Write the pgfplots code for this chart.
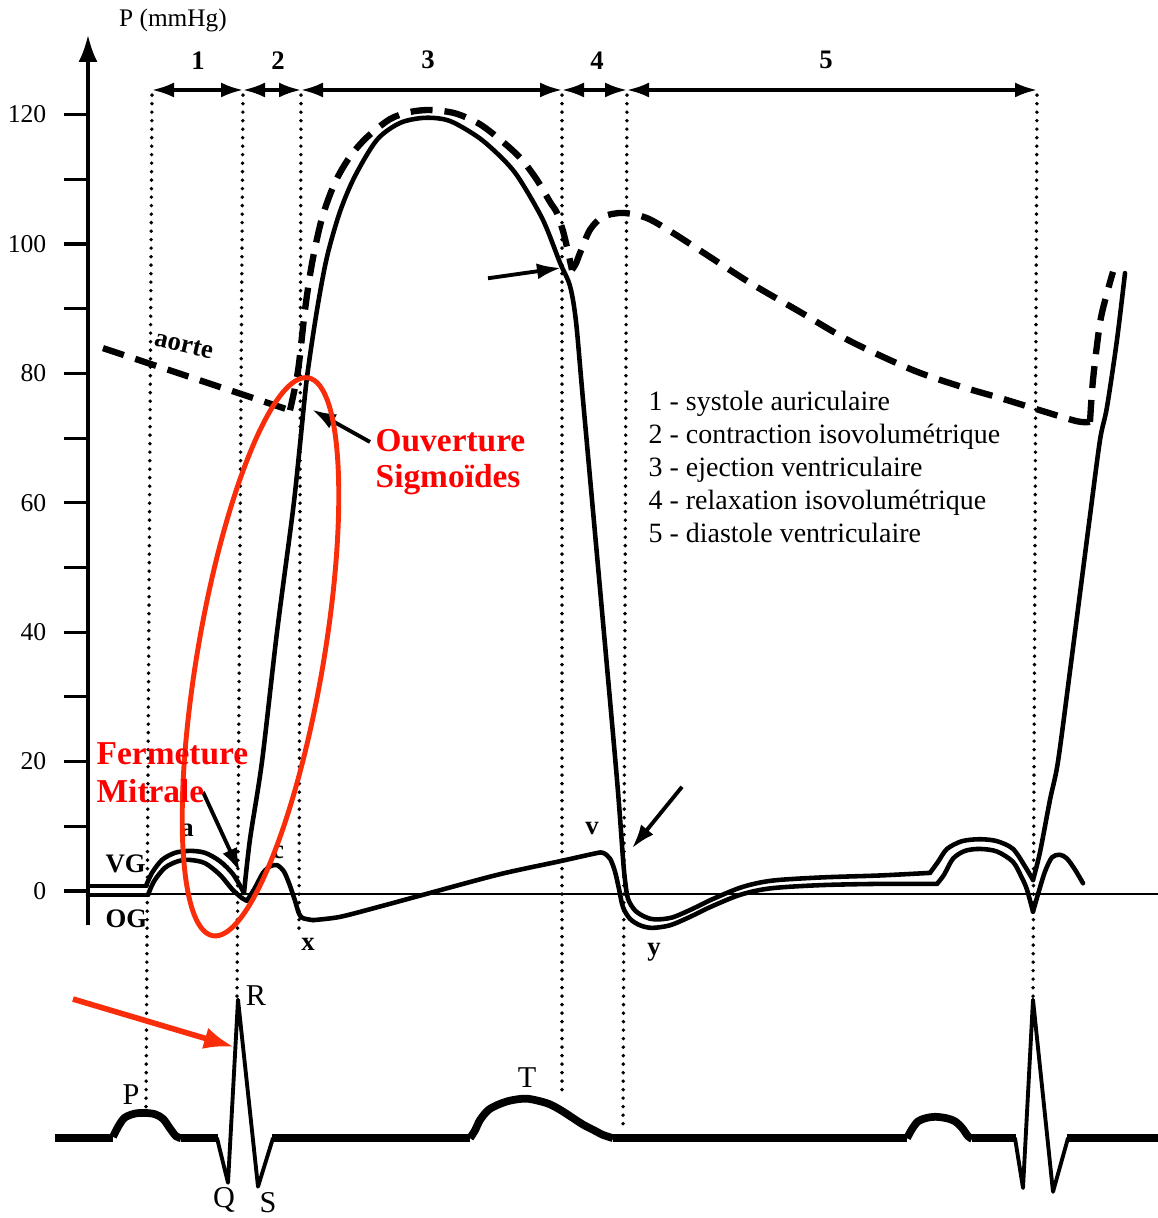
\documentclass[border=0pt]{standalone}
\usepackage{pgfplots}
\pgfplotsset{compat=1.18}
\usepackage{fontspec}
\setmainfont{Liberation Serif}
\usetikzlibrary{arrows.meta}
\definecolor{redT}{RGB}{255,0,0}
\definecolor{redE}{RGB}{250,45,10}
\begin{document}
\begin{tikzpicture}[
 vg/.style={line width=1.3pt, line join=round, line cap=round},
 ao/.style={line width=1.8pt, dash pattern=on 2.2mm off 1.2mm},
 dotl/.style={line width=1.1pt, line cap=round, dash pattern=on 0pt off 0.85mm},
 ecg/.style={line width=2.2pt, line join=round},
 qrs/.style={line width=1.1pt, line join=round, line cap=round},
 ph/.style={line width=0.9pt, {Latex[length=2.2mm,width=1.5mm]}-{Latex[length=2.2mm,width=1.5mm]}},
 tk/.style={line width=0.9pt},
 tl/.style={font=\fontsize{7.3}{8}\selectfont, anchor=east, inner sep=0pt},
 lg/.style={font=\fontsize{7.95}{9}\selectfont, anchor=base west, inner sep=0pt},
 bl/.style={font=\fontsize{7.6}{9}\selectfont\bfseries},
 rl/.style={font=\fontsize{9.5}{10}\selectfont\bfseries, text=redT, anchor=base west, inner sep=0pt},
 el/.style={font=\fontsize{8.6}{10}\selectfont, inner sep=0pt},
]
\begin{axis}[scale only axis, width=11.58cm, height=12.18cm,
  xmin=0, xmax=1158, ymin=-50.54, ymax=137.71,
  axis lines=none, clip=false, no markers]

\coordinate (BL) at (axis cs:0,-50.54);
\coordinate (TR) at (axis cs:1158,137.71);

% ---- y axis and ticks
\draw[line width=0.9pt, -{Latex[length=2.7mm,width=1.9mm]}] (axis cs:88,-5.3) -- (axis cs:88,132.3);
\draw[tk] (axis cs:64,0) -- (axis cs:86,0);
\draw[tk] (axis cs:64,10) -- (axis cs:86,10);
\draw[tk] (axis cs:64,20) -- (axis cs:86,20);
\draw[tk] (axis cs:64,30) -- (axis cs:86,30);
\draw[tk] (axis cs:64,40) -- (axis cs:86,40);
\draw[tk] (axis cs:64,50) -- (axis cs:86,50);
\draw[tk] (axis cs:64,60) -- (axis cs:86,60);
\draw[tk] (axis cs:64,70) -- (axis cs:86,70);
\draw[tk] (axis cs:64,80) -- (axis cs:86,80);
\draw[tk] (axis cs:64,90) -- (axis cs:86,90);
\draw[tk] (axis cs:64,100) -- (axis cs:86,100);
\draw[tk] (axis cs:64,110) -- (axis cs:86,110);
\draw[tk] (axis cs:64,120) -- (axis cs:86,120);
\node[tl] at (axis cs:47,0) {0};
\node[tl] at (axis cs:47,20) {20};
\node[tl] at (axis cs:47,40) {40};
\node[tl] at (axis cs:47,60) {60};
\node[tl] at (axis cs:47,80) {80};
\node[tl] at (axis cs:47,100) {100};
\node[tl] at (axis cs:47,120) {120};
\node[font=\fontsize{7.2}{8}\selectfont, inner sep=0pt] at (axis cs:173,134.6) {P (mmHg)};
% x axis line
\draw[line width=0.6pt] (axis cs:88,-0.4) -- (axis cs:1158,-0.4);

% ---- dotted verticals
\addplot[dotl] coordinates {(152,123) (146,-33.8)};
\addplot[dotl] coordinates {(243,123) (237,-16.8)};
\addplot[dotl] coordinates {(301,123) (299,-6.5)};
\addplot[dotl] coordinates {(562,123) (562,-31.5)};
\addplot[dotl] coordinates {(627,123) (623,-37.0)};
\addplot[dotl] coordinates {(1037,123) (1033,-16.8)};

% ---- phase arrows
\draw[ph] (axis cs:152,123.8) -- (axis cs:243,123.8);
\draw[ph] (axis cs:243,123.8) -- (axis cs:301,123.8);
\draw[ph] (axis cs:301,123.8) -- (axis cs:562,123.8);
\draw[ph] (axis cs:562,123.8) -- (axis cs:627,123.8);
\draw[ph] (axis cs:627,123.8) -- (axis cs:1037,123.8);
\node[bl] at (axis cs:198,128.4) {1};
\node[bl] at (axis cs:278,128.4) {2};
\node[bl] at (axis cs:428,128.4) {3};
\node[bl] at (axis cs:597,128.4) {4};
\node[bl] at (axis cs:826,128.4) {5};

% ---- aorta (dashed)
\addplot[ao] coordinates {(103,83.9) (290,74.3)};
\addplot[ao, smooth] coordinates {(290,74.3) (298,80.4) (305,89.8) (312,97) (322,104) (335,109.5) (350,113.5) (367,116.5) (390,119.3) (410,120.4) (430,120.7) (455,120.2) (480,118.5) (505,115.5) (522,113) (537,109.9) (550,106.5) (557,104.8) (563,102) (567,99.5) (572,96.0)};
\addplot[ao, smooth] coordinates {(572,96.0) (576,97) (580,98.6) (590,102.2) (603,104.2) (623,104.8) (647,104.0) (673,101.7) (700,99) (750,94) (800,89.5) (850,85) (913,80.5) (960,78) (1000,76.2) (1040,74.3) (1077,72.6) (1090,72.5)};
\addplot[ao, smooth] coordinates {(1090,72.5) (1093,79.0) (1100,87.8) (1107,92.4) (1113,95.7)};

% ---- left ventricle (VG)
\addplot[vg] coordinates {(90,0.8) (146,0.8)};
\addplot[vg, smooth] coordinates {(146,0.8) (152,2.8) (162,4.8) (175,5.9) (190,6.2) (205,5.9) (220,4.6) (233,2.6) (244,-0.3)};
\addplot[vg, smooth] coordinates {(244,-0.3) (250,8) (262,20) (277,40) (293,58.9) (300,69) (307,79.4) (317,89.8) (327,98) (340,105) (355,110.5) (377,116.1) (400,118.7) (425,119.5) (450,119.0) (480,116.3) (505,112.8) (520,109.9) (543,103.7) (560,97.1) (570,93.5) (576,88) (583,75.9) (601,45) (617,17.2) (623,5) (625,1.7) (628,-1.2) (635,-3.0) (645,-4.0) (655,-4.4) (672,-4.1) (692,-2.8) (712,-1.3) (742,0.6) (772,1.6) (822,2.1) (880,2.4) (930,2.8)};
\addplot[vg, smooth] coordinates {(930,2.8) (938,4.5) (947,6.5) (962,7.7) (980,8.0) (997,7.7) (1013,6.5) (1025,3.8) (1033,1.7)};
\addplot[vg, smooth] coordinates {(1033,1.7) (1040,6) (1050,14.1) (1058,20) (1070,34) (1080,46) (1090,58) (1100,69.7) (1107,74.8) (1117,85.2) (1125,95.5)};

% ---- left atrium (OG)
\addplot[vg] coordinates {(88,-0.6) (148,-0.6)};
\addplot[vg, smooth] coordinates {(148,-0.6) (154,1.5) (165,3.6) (178,4.6) (190,4.8) (205,4.3) (220,2.5) (232,0.3) (242,-1.1) (247,-1.5)};
\addplot[vg, smooth] coordinates {(247,-1.5) (255,0.5) (263,2.8) (270,3.8) (277,4.0) (284,3.0) (290,0.8) (295,-1.5) (299,-3.5) (303,-4.2) (313,-4.5)};
\addplot[vg, smooth] coordinates {(313,-4.5) (340,-4.0) (380,-2.4) (430,-0.3) (500,2.6) (560,4.6) (595,5.8) (603,5.9) (610,5.0) (615,3.0) (619,0.3) (623,-2.5) (630,-4.3) (640,-5.3) (652,-5.7) (670,-5.3) (690,-4.0) (710,-2.5) (740,-0.6) (770,0.4) (820,0.9) (880,1.1) (937,1.1)};
\addplot[vg, smooth] coordinates {(937,1.1) (944,2.5) (953,5.0) (965,6.2) (980,6.5) (997,6.1) (1013,4.5) (1022,2.0) (1027,0.2) (1033,-3.2)};
\addplot[vg, smooth] coordinates {(1033,-3.2) (1038,-0.5) (1045,3.0) (1052,5.2) (1060,5.6) (1067,5.0) (1075,3.3) (1083,1.2)};

% ---- ECG
\addplot[ecg] coordinates {(55,-38.2) (113,-38.2)};
\addplot[ecg, smooth] coordinates {(113,-38.0) (119,-36.2) (125,-35.0) (135,-34.4) (145,-34.3) (155,-34.5) (163,-35.2) (170,-36.7) (176,-37.9) (181,-38.2)};
\addplot[ecg] coordinates {(181,-38.2) (218,-38.2)};
\addplot[qrs] coordinates {(217,-38.2) (228,-45.1) (238,-16.8) (258,-45.7) (273,-38.2)};
\addplot[ecg] coordinates {(272,-38.2) (470,-38.2)};
\addplot[ecg, smooth] coordinates {(470,-38.2) (475,-37) (480,-35.4) (488,-33.9) (497,-33.1) (510,-32.4) (527,-32.1) (547,-32.8) (560,-33.8) (573,-35.1) (583,-36.1) (593,-36.9) (603,-37.7) (613,-38.2)};
\addplot[ecg] coordinates {(613,-38.2) (907,-38.2)};
\addplot[ecg, smooth] coordinates {(907,-38.2) (912,-36.8) (918,-35.6) (926,-35.1) (935,-34.9) (946,-35.1) (955,-35.6) (962,-36.6) (968,-37.9) (972,-38.3)};
\addplot[ecg] coordinates {(972,-38.2) (1016,-38.2)};
\addplot[qrs] coordinates {(1015,-38.2) (1023,-45.9) (1033,-16.8) (1053,-46.5) (1068,-38.2)};
\addplot[ecg] coordinates {(1067,-38.2) (1158,-38.2)};

% ---- labels
\node[el] at (axis cs:131,-31.4) {P};
\node[el] at (axis cs:256,-16.2) {R};
\node[el] at (axis cs:224,-47.8) {Q};
\node[el] at (axis cs:268,-48.2) {S};
\node[el] at (axis cs:527,-28.9) {T};
\node[bl, anchor=base west, inner sep=0pt] at (axis cs:105,2.9) {VG};
\node[bl, anchor=base west, inner sep=0pt] at (axis cs:105,-5.6) {OG};
\node[bl] at (axis cs:187,9.4) {a};
\node[bl] at (axis cs:278,5.9) {c};
\node[bl] at (axis cs:308,-8.3) {x};
\node[bl] at (axis cs:592,9.7) {v};
\node[bl] at (axis cs:654,-9.4) {y};
\node[bl, rotate=-13] at (axis cs:184,84.4) {aorte};

% legend text
\node[lg] at (axis cs:648,74.3) {1 - systole auriculaire};
\node[lg] at (axis cs:648,69.2) {2 - contraction isovolumétrique};
\node[lg] at (axis cs:648,64.1) {3 - ejection ventriculaire};
\node[lg] at (axis cs:648,59.0) {4 - relaxation isovolumétrique};
\node[lg] at (axis cs:648,53.9) {5 - diastole ventriculaire};

% black arrows
\draw[line width=1.1pt, -{Latex[length=2.4mm,width=1.6mm]}] (axis cs:203,15.3) -- (axis cs:240,2.9);
\draw[line width=1.1pt, -{Latex[length=2.4mm,width=1.6mm]}] (axis cs:370,69.4) -- (axis cs:312,74.4);
\draw[line width=1.1pt, -{Latex[length=2.4mm,width=1.6mm]}] (axis cs:488,94.7) -- (axis cs:561,96.3);
\draw[line width=1.1pt, -{Latex[length=2.4mm,width=1.6mm]}] (axis cs:682,16.1) -- (axis cs:632,6.6);

% red annotations
\draw[redE, line width=1.4pt, rotate around={-9.7:(axis cs:260.5,36.2)}] (axis cs:260.5,36.2) ellipse [x radius=6.3mm, y radius=28.3mm];
\draw[redE, line width=1.6pt, -{Latex[length=3mm,width=2.2mm]}] (axis cs:73,-16.7) -- (axis cs:234,-24.1);
\node[rl] at (axis cs:375,68.0) {Ouverture};
\node[rl] at (axis cs:375,62.3) {Sigmoïdes};
\node[rl] at (axis cs:96,19.5) {Fermeture};
\node[rl] at (axis cs:96,13.7) {Mitrale};

\end{axis}
\pgfresetboundingbox
\path (BL) rectangle (TR);
\end{tikzpicture}
\end{document}
